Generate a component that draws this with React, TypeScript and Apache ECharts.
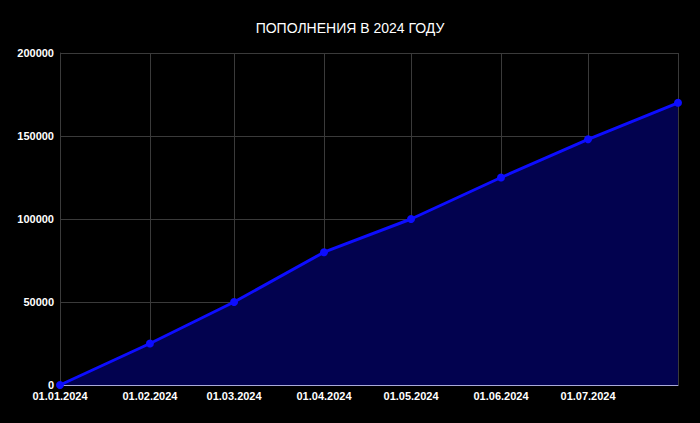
import React, { useEffect, useRef } from "react";
import * as echarts from "echarts";

const dates = ["2024-01-01", "2024-02-01", "2024-03-01", "2024-04-01", "2024-05-01", "2024-06-01", "2024-07-01", "2024-08-01"];
const values = [0, 25000, 50000, 80000, 100000, 125000, 148000, 170000];
const yTicks = [0, 50000, 100000, 150000, 200000];
const title = "ПОПОЛНЕНИЯ В 2024 ГОДУ";

function fmt(v: number) {
  const d = new Date(v);
  const dd = String(d.getDate()).padStart(2, "0");
  const mm = String(d.getMonth() + 1).padStart(2, "0");
  return `${dd}.${mm}.${d.getFullYear()}`;
}

export default function App() {
  const ref = useRef<HTMLDivElement>(null);
  useEffect(() => {
    if (!ref.current) return;
    const chart = echarts.init(ref.current, undefined, { renderer: "svg" });
    const data = dates.map((d, i) => [new Date(d + "T00:00:00").getTime(), values[i]]);
    chart.setOption({
      animation: false,
      backgroundColor: "#000000",
      title: {
        text: title,
        left: "center",
        top: 16,
        textStyle: { color: "#ffffff", fontSize: 14, fontWeight: "normal", fontFamily: "Liberation Sans Narrow, Liberation Sans, Arial" },
      },
      grid: { left: 60, right: 22, top: 53, bottom: 38, containLabel: false },
      xAxis: {
        type: "time",
        min: data[0][0],
        max: data[data.length - 1][0],
        axisLine: { show: true, lineStyle: { color: "#a9a9d8", width: 1 } },
        axisTick: { show: false },
        splitLine: { show: true, lineStyle: { color: "#3a3a3a", width: 1 } },
        axisLabel: {
          color: "#ffffff",
          fontSize: 11,
          fontWeight: "bold",
          fontFamily: "Liberation Sans, Arial",
          margin: 5,
          showMaxLabel: false,
          hideOverlap: false,
          formatter: (v: number) => fmt(v),
        },
        splitNumber: 7,
        minInterval: 28 * 86400000,
        maxInterval: 31 * 86400000,
      },
      yAxis: {
        type: "value",
        min: yTicks[0],
        max: yTicks[yTicks.length - 1],
        interval: yTicks[1] - yTicks[0],
        axisLine: { show: true, lineStyle: { color: "#3a3a3a" } },
        axisTick: { show: false },
        splitLine: { show: true, lineStyle: { color: "#3a3a3a", width: 1 } },
        axisLabel: {
          color: "#ffffff",
          fontSize: 11,
          fontWeight: "bold",
          fontFamily: "Liberation Sans, Arial",
          margin: 6,
          formatter: (v: number) => String(v),
        },
      },
      series: [
        {
          type: "line",
          data,
          symbol: "circle",
          symbolSize: 8,
          showSymbol: true,
          lineStyle: { color: "#0d0dff", width: 3 },
          itemStyle: { color: "#0d0dff" },
          areaStyle: { color: "#02024f", opacity: 1 },
        },
      ],
    });
    return () => chart.dispose();
  }, []);
  return <div ref={ref} style={{ width: 700, height: 423, position: "absolute", left: 0, top: 0 }} />;
}
